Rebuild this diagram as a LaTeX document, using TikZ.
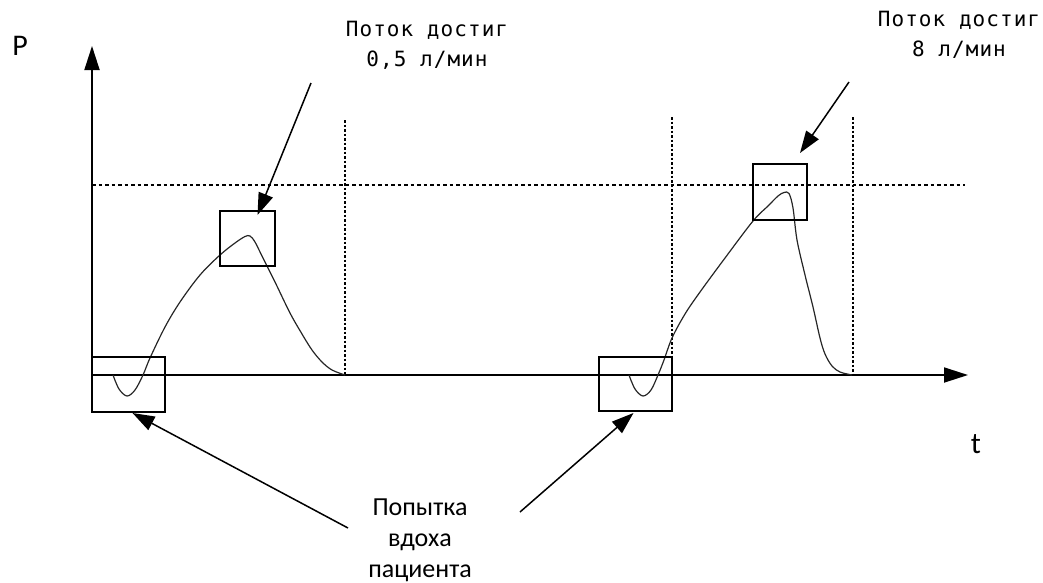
\documentclass[tikz,border=0pt]{standalone}
\usepackage{fontspec}
\usetikzlibrary{arrows.meta,calc}
\newfontfamily\monofnt{DejaVu Sans Mono}[LetterSpace=5]
\newfontfamily\labfnt{Carlito}

\begin{document}
\begin{tikzpicture}[x=1pt,y=-1pt,
  axis/.style={line width=1.8pt,-{Triangle[length=24pt,width=15pt]}},
  callout/.style={line width=1.5pt,-{Triangle[length=22pt,width=15pt]}},
  guide/.style={line width=1.3pt,dash pattern=on 3.5pt off 3pt},
  vguide/.style={line width=1.5pt,dash pattern=on 2.5pt off 2pt},
  markbox/.style={draw,line width=1.4pt,inner sep=0pt,outer sep=0pt},
  wave/.style={line width=1.2pt,draw=black!85,smooth,tension=0.55},
  monotext/.style={align=center,font=\monofnt\fontsize{21}{30}\selectfont},
  sanstext/.style={align=center,font=\labfnt\fontsize{26}{31}\selectfont},
  axlabel/.style={font=\labfnt\fontsize{30}{30}\selectfont}]

\useasboundingbox (0,0) rectangle (1043,582);

% reference levels
\draw[guide] (92,185) -- (965,185);
\draw[vguide] (345,120) -- (345,375);
\draw[vguide] (672,117) -- (672,375);
\draw[vguide] (853,117) -- (853,375);

% axes
\coordinate (o) at (92,375);
\coordinate (ytop) at (92,46);
\coordinate (xend) at (968,375);
\draw[axis] (o) -- (ytop);
\draw[axis] (o) -- (xend);
\node[axlabel] (P) at (20,46) {P};
\node[axlabel] (t) at (976,444) {t};

% pressure curves
\draw[wave] plot coordinates {(113,375) (119,389) (127,396) (135,390) (143,375)
  (150,358) (165,327) (180,302) (200,275) (220,255) (235,243) (245,236.5)
  (250,236) (255,242) (262,256) (275,282) (290,313) (302,334) (312,350)
  (322,362) (332,370) (345,375)};
\draw[wave] plot coordinates {(629,375) (635,389) (643,396) (651,390) (658,375)
  (664,360) (672,338) (685,314) (700,292) (725,258) (753,221) (768,206)
  (778,196) (784,192.5) (789,193.5) (793,208) (797,240) (805,275) (813,307)
  (820,338) (825,354) (832,366) (840,372) (852,375)};

% marked regions
\node[markbox,minimum width=73pt,minimum height=55pt] (box1) at (128.5,384.5) {};
\node[markbox,minimum width=55pt,minimum height=55pt] (box2) at (247.5,238.5) {};
\node[markbox,minimum width=73pt,minimum height=54pt] (box3) at (635.5,384) {};
\node[markbox,minimum width=54pt,minimum height=56pt] (box4) at (780,192) {};

% labels
\node[monotext] (flow1) at (427,45) {Поток достиг\\0,5 л/мин};
\node[monotext] (flow2) at (959,35) {Поток достиг\\8 л/мин};
\node[sanstext] (attempt) at (420,540) {Попытка\\вдоха\\пациента};

% callout arrows
\coordinate (s1) at (311,83);
\coordinate (s2) at (849,82);
\coordinate (s3) at (348,528);
\coordinate (s4) at (520,512);
\draw[callout] (s1) -- ($(box2.north)+(10,4)$);
\draw[callout] (s2) -- ($(box4.north)+(20,-11)$);
\draw[callout] (s3) -- ($(box1.south)+(4,1)$);
\draw[callout] (s4) -- ($(box3.south)+(-2,2)$);
\end{tikzpicture}
\end{document}
